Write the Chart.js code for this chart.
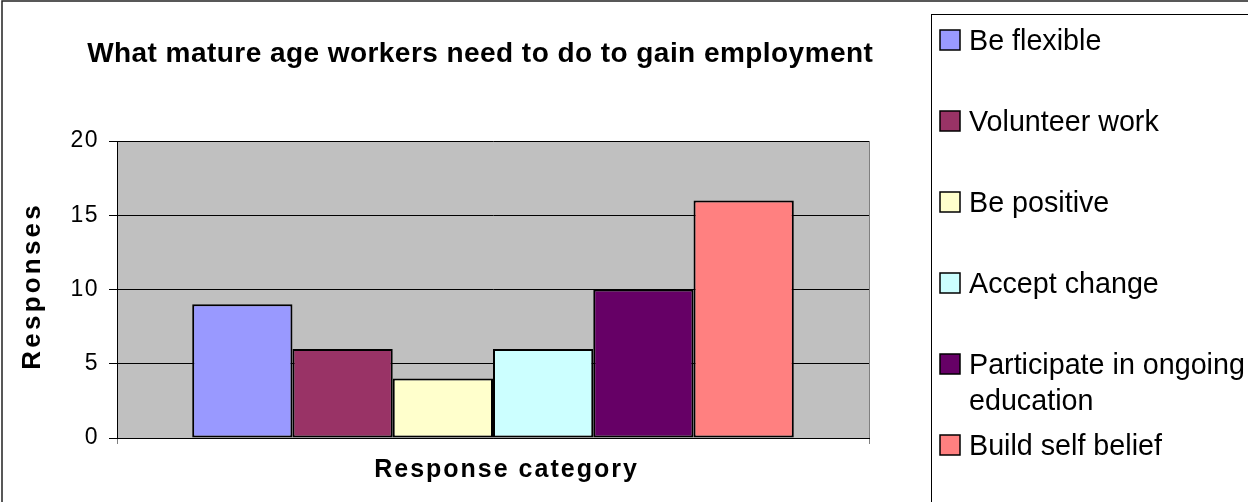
<!DOCTYPE html>
<html>
<head>
<meta charset="utf-8">
<title>Mature age workers</title>
<script src="https://cdn.jsdelivr.net/npm/chart.js@4/dist/chart.umd.min.js"></script>
<style>
    html, body { margin: 0; padding: 0; background: #fff; }
    #wrap { width: 1248px; height: 502px; position: relative; }
</style>
</head>
<body>
<div id="wrap"><canvas id="chartEmprego"></canvas></div>
<script>
const categories = [''];
const seriesLabels = ['Be flexible', 'Volunteer work', 'Be positive', 'Accept change', 'Participate in ongoing education', 'Build self belief'];
const seriesValues = [9, 6, 4, 6, 10, 16];
const seriesColors = ['#9999ff', '#993366', '#ffffcc', '#ccffff', '#660066', '#ff8080'];
const yTicks = [0, 5, 10, 15, 20];
const chartTitle = 'What mature age workers need to do to gain employment';
const xTitle = 'Response category';
const yTitle = 'Responses';

const FONT = 'Arial, "Liberation Sans", sans-serif';

// text with extra tracking, the way the spreadsheet export draws it
function spacedText(ctx, text, x, y, spacing, align) {
    ctx.letterSpacing = spacing + 'px';
    const w = ctx.measureText(text).width - spacing;
    let sx = x;
    if (align === 'center') sx = x - w / 2;
    ctx.textAlign = 'left';
    ctx.fillText(text, sx, y);
    ctx.letterSpacing = '0px';
}

function wrapLines(ctx, text, maxWidth) {
    const words = text.split(' ');
    const lines = [];
    let line = '';
    words.forEach((w) => {
        const test = line ? line + ' ' + w : w;
        if (line && ctx.measureText(test).width > maxWidth) {
            lines.push(line);
            line = w;
        } else {
            line = test;
        }
    });
    if (line) lines.push(line);
    return lines;
}

const sheetFrame = {
    id: 'sheetFrame',
    beforeDraw(chart) {
        const { ctx, chartArea: a } = chart;
        ctx.save();
        ctx.fillStyle = '#fff';
        ctx.fillRect(0, 0, chart.width, chart.height);
        ctx.fillStyle = '#c0c0c0';
        ctx.fillRect(a.left, a.top, a.right - a.left, a.bottom - a.top);
        ctx.restore();
        // the y tick numbers are drawn a little wide
        ctx.letterSpacing = '1.5px';
    },
    afterDraw(chart) {
        const { ctx } = chart;
        ctx.save();
        ctx.letterSpacing = '0px';
        ctx.fillStyle = '#000';
        ctx.textBaseline = 'alphabetic';

        ctx.font = 'bold 28px ' + FONT;
        spacedText(ctx, chartTitle, 480, 62, 0.45, 'center');

        ctx.font = 'bold 25px ' + FONT;
        spacedText(ctx, xTitle, 505.5, 477, 2, 'center');

        ctx.save();
        ctx.translate(40, 287.5);
        ctx.rotate(-Math.PI / 2);
        ctx.font = 'bold 26px ' + FONT;
        spacedText(ctx, yTitle, 0, 0, 3.2, 'center');
        ctx.restore();

        // legend box
        ctx.strokeStyle = '#000';
        ctx.lineWidth = 1;
        ctx.strokeRect(931.5, 14.5, 400, 600);

        ctx.font = '28.7px ' + FONT;
        let base = 50;
        chart.data.datasets.forEach((ds) => {
            ctx.fillStyle = ds.backgroundColor;
            ctx.fillRect(940, base - 20, 20, 20);
            ctx.lineWidth = 1.5;
            ctx.strokeRect(940, base - 20, 20, 20);
            ctx.fillStyle = '#000';
            const lines = wrapLines(ctx, ds.label, 278);
            lines.forEach((ln, i) => ctx.fillText(ln, 969, base + i * 36));
            base += 81;
        });

        // outer chart border
        ctx.strokeStyle = '#222';
        ctx.lineWidth = 1.5;
        ctx.strokeRect(2, 1, 1400, 700);
        ctx.restore();
    },
};

function initChart() {
    Chart.defaults.font.family = FONT;
    Chart.defaults.color = '#000';

    const canvas = document.getElementById('chartEmprego');
    // eslint-disable-next-line no-new
    new Chart(canvas, {
        type: 'bar',
        data: {
            labels: categories,
            datasets: seriesLabels.map((label, i) => ({
                label,
                data: [seriesValues[i]],
                backgroundColor: seriesColors[i],
                borderColor: '#000',
                borderWidth: 2,
                borderSkipped: false,
            })),
        },
        options: {
            responsive: true,
            maintainAspectRatio: false,
            animation: false,
            categoryPercentage: 0.8,
            barPercentage: 1.0,
            layout: { padding: { left: 57, top: 141, right: 379, bottom: 56 } },
            plugins: {
                legend: { display: false },
                title: { display: false },
                tooltip: { enabled: false },
            },
            scales: {
                x: {
                    offset: true,
                    grid: { offset: true, color: '#808080', lineWidth: 1, tickLength: 6, drawOnChartArea: true },
                    border: { color: '#000', width: 1 },
                    ticks: { display: false },
                    afterFit: (scale) => { scale.height = 8; },
                },
                y: {
                    min: 0,
                    max: 20,
                    afterBuildTicks: (scale) => { scale.ticks = yTicks.map((v) => ({ value: v })); },
                    grid: { color: '#000', lineWidth: 1, tickLength: 8 },
                    border: { color: '#000', width: 1 },
                    ticks: { font: { size: 23 }, padding: 10, color: '#000' },
                    afterFit: (scale) => { scale.width = 60; },
                },
            },
        },
        plugins: [sheetFrame],
    });
}

if (document.readyState === 'loading') {
    document.addEventListener('DOMContentLoaded', initChart);
} else {
    initChart();
}
</script>
</body>
</html>
